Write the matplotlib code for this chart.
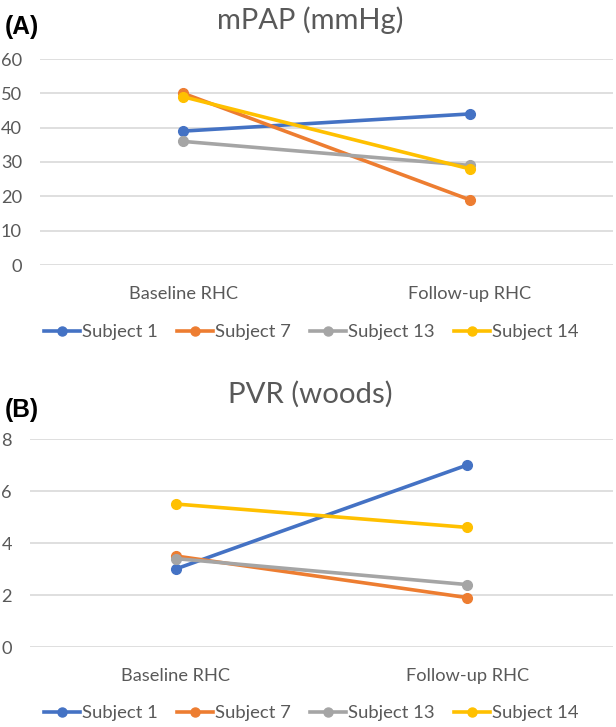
import matplotlib
matplotlib.use("Agg")
import matplotlib.pyplot as plt
from matplotlib.lines import Line2D

categories = ["Baseline RHC", "Follow-up RHC"]
subjects = ["Subject 1", "Subject 7", "Subject 13", "Subject 14"]
mpap = {
    "Subject 1": [39, 44],
    "Subject 7": [50, 19],
    "Subject 13": [36, 29],
    "Subject 14": [49, 28],
}
pvr = {
    "Subject 1": [3.0, 7.0],
    "Subject 7": [3.5, 1.9],
    "Subject 13": [3.4, 2.4],
    "Subject 14": [5.5, 4.6],
}
mpap_ticks = [0, 10, 20, 30, 40, 50, 60]
pvr_ticks = [0, 2, 4, 6, 8]
colors = ["#4472C4", "#ED7D31", "#A5A5A5", "#FFC000"]

plt.rcParams['font.family'] = ['Lato', 'DejaVu Sans']
TXT = "#595959"
GRID = "#D9D9D9"

W, H = 616, 727
fig = plt.figure(figsize=(W / 100, H / 100), dpi=100)
renderer = fig.canvas.get_renderer()


def fit_size(text, target_px, **kw):
    t = fig.text(0, 0, text, fontsize=10, **kw)
    w = t.get_window_extent(renderer).width
    t.remove()
    return 10 * target_px / w


TICK_FS = fit_size("Baseline RHC", 109)
LEG_FS = fit_size("Subject 1", 76)
TITLE_A_FS = fit_size("mPAP (mmHg)", 186)
TITLE_B_FS = fit_size("PVR (woods)", 165)
LAB_FS = fit_size("(A)", 34, fontweight='bold',
                  family=['Liberation Sans', 'DejaVu Sans'])


def px_axes(x0, x1, ytop, ybot):
    return fig.add_axes([x0 / W, 1 - ybot / H, (x1 - x0) / W, (ybot - ytop) / H])


def draw(ax, data, ticks, title, title_fs, label, title_y, label_y, legend_y):
    x = list(range(len(categories)))
    for s, c in zip(subjects, colors):
        ax.plot(x, data[s], color=c, lw=2.6, marker='o', ms=7,
                solid_capstyle='round', zorder=3)
    ax.set_xlim(-0.5, 1.5)
    ax.set_ylim(ticks[0], ticks[-1])
    ax.set_yticks(ticks)
    ax.set_xticks(x)
    ax.set_xticklabels(categories)
    ax.grid(axis='y', color=GRID, lw=1.2)
    ax.set_axisbelow(True)
    for sp in ax.spines.values():
        sp.set_visible(False)
    ax.tick_params(axis='both', length=0, labelsize=TICK_FS, colors=TXT)
    ax.tick_params(axis='y', pad=13)
    ax.tick_params(axis='x', pad=15)
    for t in ax.get_xticklabels() + ax.get_yticklabels():
        t.set_color(TXT)
    fig.text(310 / W, 1 - title_y / H, title, ha='center', va='center',
             fontsize=title_fs, color=TXT)
    fig.text(5 / W, 1 - label_y / H, label, ha='left', va='center',
             fontsize=LAB_FS, fontweight='bold', color='black',
             family=['Liberation Sans', 'DejaVu Sans'])
    handles = [Line2D([0], [0], color=c, lw=2.6, marker='o', ms=6.5)
               for c in colors]
    fig.legend(handles, subjects, loc='center', ncol=4,
               bbox_to_anchor=(311 / W, 1 - legend_y / H), frameon=False,
               fontsize=LEG_FS, labelcolor=TXT, handlelength=1.95,
               handletextpad=0.1, columnspacing=1.05, borderaxespad=0)


axA = px_axes(40, 613, 59, 265)
draw(axA, mpap, mpap_ticks, "mPAP (mmHg)", TITLE_A_FS, "(A)", 20, 27, 332)

axB = px_axes(30, 613, 439, 647)
draw(axB, pvr, pvr_ticks, "PVR (woods)", TITLE_B_FS, "(B)", 394, 410, 713)

fig.savefig("out.png", dpi=100)
